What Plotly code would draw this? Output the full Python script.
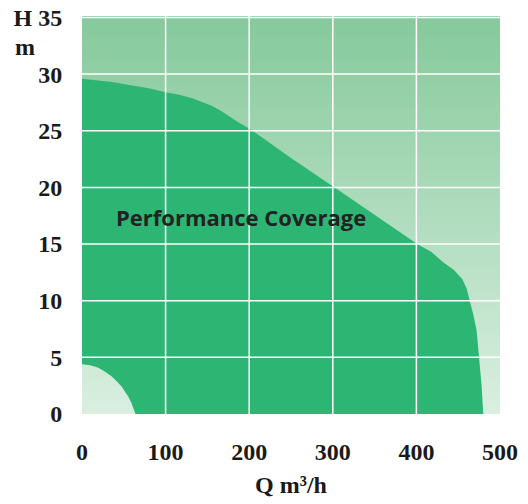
import plotly.graph_objects as go

# Data
x_ticks = [0, 100, 200, 300, 400, 500]
y_ticks = [0, 5, 10, 15, 20, 25, 30, 35]
y_ticktext = ["0", "5", "10", "15", "20", "25", "30", "H 35"]

# Upper boundary of coverage (Q, H)
upper_q = [0, 20, 36, 60, 80, 100, 115, 131, 145, 155, 165, 175, 188, 201, 250, 300, 350, 401, 418, 432, 445, 455, 460, 464, 468, 472, 475, 478, 480]
upper_h = [29.6, 29.45, 29.3, 29.0, 28.75, 28.4, 28.2, 27.9, 27.5, 27.2, 26.8, 26.3, 25.7, 25.15, 22.6, 20.1, 17.6, 15.0, 14.3, 13.4, 12.7, 11.9, 11.1, 10.0, 8.8, 7.4, 5.0, 2.5, 0.0]

# Lower-left excluded region boundary (Q, H), from the axis outwards
lower_q = [64, 63, 61.6, 59, 55.6, 52, 47.6, 42, 35.7, 28, 19.7, 10, 0]
lower_h = [0.0, 0.2, 0.5, 1.0, 1.5, 1.95, 2.4, 2.85, 3.3, 3.7, 4.08, 4.3, 4.4]

q_range = [0, 500]
h_range = [0, 35.13]

label = "Performance Coverage"
label_q, label_h = 190, 17.4

dark = "#2DB673"
grad = [[0, "#DAEFE0"], [1, "#85C99B"]]

fig = go.Figure()

# background gradient
fig.add_trace(go.Scatter(
    x=[q_range[0], q_range[1], q_range[1], q_range[0], q_range[0]],
    y=[h_range[0], h_range[0], h_range[1], h_range[1], h_range[0]],
    mode="lines", line=dict(width=0), fill="toself",
    fillgradient=dict(type="vertical", colorscale=grad, start=h_range[0], stop=h_range[1]),
    hoverinfo="skip", showlegend=False))

# dark coverage region
poly_q = lower_q + upper_q + [lower_q[0]]
poly_h = lower_h + upper_h + [lower_h[0]]
fig.add_trace(go.Scatter(
    x=poly_q, y=poly_h, mode="lines", line=dict(width=0),
    fill="toself", fillcolor=dark, hoverinfo="skip", showlegend=False))

# white gridlines above
for q in x_ticks[1:-1]:
    fig.add_shape(type="line", x0=q, x1=q, y0=h_range[0], y1=h_range[1],
                  line=dict(color="white", width=1.5), layer="above")
for h in y_ticks[1:]:
    fig.add_shape(type="line", x0=q_range[0], x1=q_range[1], y0=h, y1=h,
                  line=dict(color="white", width=1.5), layer="above")

fig.add_annotation(x=label_q, y=label_h, text=f"<b>{label}</b>", showarrow=False,
                   font=dict(family="Open Sans", size=22, color="#222222"))

tick_font = dict(family="Liberation Serif", size=24, color="#1a1a1a")
fig.add_annotation(x=0, y=1, xref="paper", yref="paper", text="<b>m</b>", showarrow=False,
                   xanchor="left", yanchor="middle", xshift=-69, yshift=-31, font=tick_font)

fig.update_layout(
    width=528, height=504,
    margin=dict(l=82, r=28, t=16, b=90),
    paper_bgcolor="white", plot_bgcolor="white",
    xaxis=dict(range=q_range, tickvals=x_ticks, ticktext=[f"<b>{v}</b>" for v in x_ticks],
               showgrid=False, zeroline=False, showline=False, automargin=False,
               ticks="outside", ticklen=16, tickcolor="rgba(0,0,0,0)",
               tickfont=tick_font, ticklabeloverflow="allow",
               title=dict(text="<b>Q m³/h</b>", font=tick_font, standoff=12)),
    yaxis=dict(range=h_range, tickvals=y_ticks, ticktext=[f"<b>{t}</b>" for t in y_ticktext],
               showgrid=False, zeroline=False, showline=False, automargin=False,
               ticks="outside", ticklen=14, tickcolor="rgba(0,0,0,0)",
               tickfont=tick_font, ticklabeloverflow="allow"),
)

fig.write_html("out.html", config={"displayModeBar": False},
               post_script="document.body.style.margin='0';")
